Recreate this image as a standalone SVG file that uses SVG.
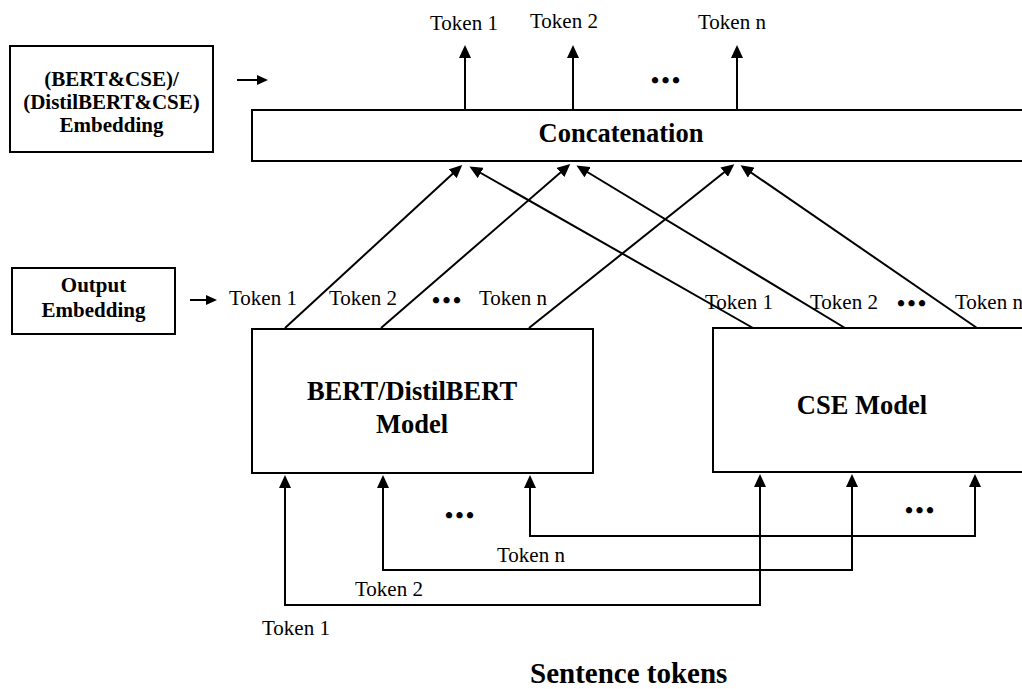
<svg xmlns="http://www.w3.org/2000/svg" width="1022" height="689" viewBox="0 0 1022 689">
<style>
.box{fill:#fff;stroke:#000;stroke-width:2}
.ln{fill:none;stroke:#000;stroke-width:2}
.arr{marker-end:url(#ah)}
.arrs{marker-end:url(#ahs)}
.t{font-family:"Liberation Serif","Times New Roman",serif;font-size:21px;fill:#000}
.b{font-family:"Liberation Serif","Times New Roman",serif;font-weight:bold;fill:#000}
.dots{font-family:"Liberation Serif","Times New Roman",serif;font-weight:bold;font-size:23px;letter-spacing:2.5px;fill:#000}
</style>
<defs>
<marker id="ah" viewBox="0 0 13 12" refX="10" refY="6" markerWidth="13" markerHeight="12" markerUnits="userSpaceOnUse" orient="auto">
<path d="M0,0 L13,6 L0,12 z" fill="#000"/>
</marker>
<marker id="ahs" viewBox="0 0 11 10" refX="8" refY="5" markerWidth="11" markerHeight="10" markerUnits="userSpaceOnUse" orient="auto">
<path d="M0,0 L11,5 L0,10 z" fill="#000"/>
</marker>
</defs>
<rect width="1022" height="689" fill="#fff"/>

<g id="embed-top">
<rect class="box" x="10" y="46" width="203" height="106"/>
<text class="b" font-size="21" x="111.5" y="86" text-anchor="middle">(BERT&amp;CSE)/</text>
<text class="b" font-size="21" x="111.5" y="109" text-anchor="middle">(DistilBERT&amp;CSE)</text>
<text class="b" font-size="21" x="111.5" y="132" text-anchor="middle">Embedding</text>
</g>

<g id="embed-out">
<rect class="box" x="12" y="268" width="163" height="66"/>
<text class="b" font-size="21" x="93.5" y="292" text-anchor="middle">Output</text>
<text class="b" font-size="21" x="93.5" y="317" text-anchor="middle">Embedding</text>
</g>

<g id="concat">
<rect class="box" x="252" y="110" width="790" height="51"/>
<text class="b" font-size="26.5" x="621" y="142" text-anchor="middle">Concatenation</text>
</g>

<g id="bert">
<rect class="box" x="252" y="329" width="341" height="144"/>
<text class="b" font-size="26.5" x="412" y="400" text-anchor="middle">BERT/DistilBERT</text>
<text class="b" font-size="26.5" x="412" y="433" text-anchor="middle">Model</text>
</g>

<g id="cse">
<rect class="box" x="713" y="328" width="330" height="144"/>
<text class="b" font-size="26.5" x="862" y="414" text-anchor="middle">CSE Model</text>
</g>

<g id="connectors">
<line class="ln arrs" x1="237" y1="80" x2="265" y2="80"/>
<line class="ln arrs" x1="190" y1="300" x2="214" y2="300"/>

<line class="ln arr" x1="465" y1="109" x2="465" y2="48"/>
<line class="ln arr" x1="573" y1="109" x2="573" y2="48"/>
<line class="ln arr" x1="737" y1="109" x2="737" y2="48"/>

<line class="ln arr" x1="285" y1="328" x2="460" y2="167"/>
<line class="ln arr" x1="753" y1="328" x2="472" y2="168"/>
<line class="ln arr" x1="381" y1="328" x2="568" y2="166"/>
<line class="ln arr" x1="845" y1="328" x2="579" y2="167"/>
<line class="ln arr" x1="529" y1="328" x2="732" y2="166"/>
<line class="ln arr" x1="977" y1="328" x2="743" y2="167"/>

<polyline class="ln arr" points="760,478 760,605 285,605 285,478"/>
<line class="ln arr" x1="760" y1="605" x2="760" y2="477"/>
<polyline class="ln arr" points="852,477 852,570 383,570 383,478"/>
<line class="ln arr" x1="852" y1="570" x2="852" y2="477"/>
<polyline class="ln arr" points="975,477 975,536 530,536 530,478"/>
<line class="ln arr" x1="975" y1="536" x2="975" y2="477"/>
</g>

<g id="labels">
<text class="t" x="430" y="30">Token 1</text>
<text class="t" x="530" y="28">Token 2</text>
<text class="t" x="698" y="29">Token n</text>
<text class="dots" x="651" y="88">•••</text>

<text class="t" x="229" y="305">Token 1</text>
<text class="t" x="329" y="305">Token 2</text>
<text class="dots" x="432" y="308">•••</text>
<text class="t" x="479" y="305">Token n</text>

<text class="t" x="705" y="309">Token 1</text>
<text class="t" x="810" y="309">Token 2</text>
<text class="dots" x="897" y="311">•••</text>
<text class="t" x="955" y="309">Token n</text>

<text class="dots" x="445" y="523">•••</text>
<text class="dots" x="905" y="518">•••</text>

<text class="t" x="497" y="562">Token n</text>
<text class="t" x="355" y="596">Token 2</text>
<text class="t" x="262" y="635">Token 1</text>

<text class="b" font-size="29" x="530" y="683">Sentence tokens</text>
</g>
</svg>
